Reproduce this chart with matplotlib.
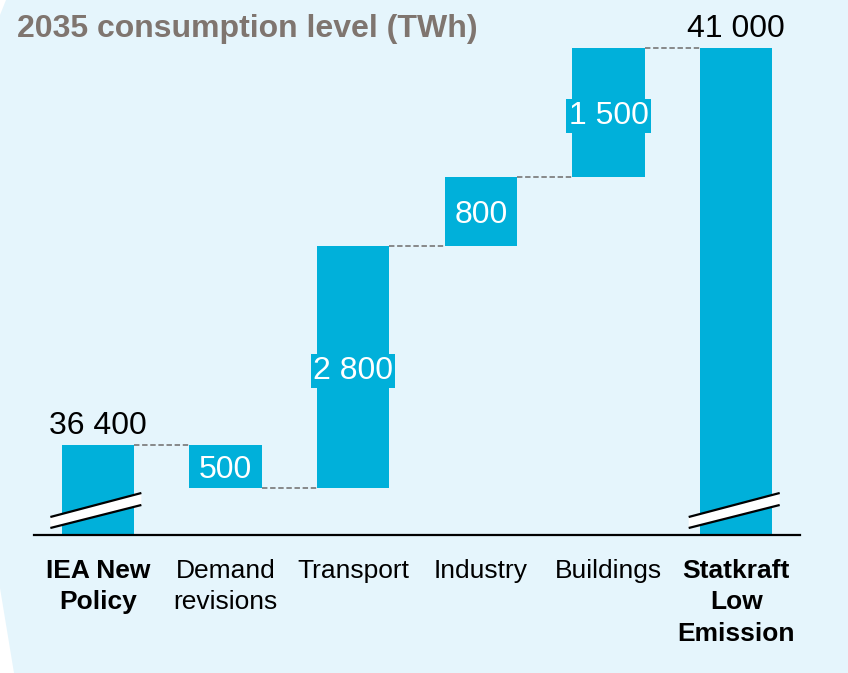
import matplotlib.pyplot as plt
from matplotlib.patches import Polygon
import numpy as np

plt.rcParams['font.family'] = ['Liberation Sans', 'DejaVu Sans']

categories = ["IEA New\nPolicy", "Demand\nrevisions", "Transport", "Industry", "Buildings", "Statkraft\nLow\nEmission"]
start_value = 36400
changes = [-500, 2800, 800, 1500]
title = "2035 consumption level (TWh)"

bar_color = "#00B0DA"
bg_color = "#E5F5FC"
title_color = "#7F756F"

def fmt(v):
    return "{:,}".format(int(abs(v))).replace(",", " ")

# waterfall geometry from data
end_value = start_value + sum(changes)
levels = [start_value]
for c in changes:
    levels.append(levels[-1] + c)
bottoms, heights = [], []
for i, c in enumerate(changes):
    lo = min(levels[i], levels[i + 1])
    bottoms.append(lo)
    heights.append(abs(c))

y_base = 35357
y_top = 41300

fig = plt.figure(figsize=(8.48, 6.73), dpi=100)
fig.patch.set_facecolor("white")

# light blue panel with slanted left edge (pixel coords)
W, H = 848, 673
panel = [(6, 0), (0, 15), (0, 588), (14, 673), (848, 673), (848, 0)]
panel = [(px / W, 1 - py / H) for px, py in panel]
fig.patches.append(Polygon(panel, closed=True, transform=fig.transFigure,
                           facecolor=bg_color, edgecolor="none", zorder=-1))

ax = fig.add_axes([34 / W, 1 - 535 / H, (800 - 34) / W, (535 - 22) / H])
ax.set_facecolor("none")
ax.set_xlim(-0.5, 5.5)
ax.set_ylim(y_base, y_top)

x = np.arange(len(categories))
bw = 0.565

# totals
ax.bar([x[0], x[-1]], [start_value - y_base, end_value - y_base], bottom=y_base,
       width=bw, color=bar_color, zorder=2)
# changes
ax.bar(x[1:-1], heights, bottom=bottoms, width=bw, color=bar_color, zorder=2)

# connectors
for i, lv in enumerate(levels):
    ax.plot([x[i] + bw / 2, x[i + 1] - bw / 2], [lv, lv], color="#808080",
            lw=1.3, ls=(0, (3, 1.5)), zorder=1)

# labels on totals
for xi, v in [(x[0], start_value), (x[-1], end_value)]:
    ax.annotate(fmt(v), (xi, v), xytext=(0, 3), textcoords="offset points",
                ha="center", va="bottom", fontsize=23, color="black")

# labels inside change bars
for xi, b, h, c in zip(x[1:-1], bottoms, heights, changes):
    ax.text(xi, b + h / 2, fmt(c), ha="center", va="center_baseline", fontsize=23,
            color="white", zorder=3,
            bbox=dict(boxstyle="square,pad=0.07", fc=bar_color, ec="none"))

# axis break marks on the total bars
ppu = 487 / (end_value - y_base)
for xi in [x[0], x[-1]]:
    xl, xr = xi - 0.372, xi + 0.341
    top = [(xl, y_base + 18 / ppu), (xr, y_base + 42 / ppu)]
    bot = [(xl, y_base + 7 / ppu), (xr, y_base + 30 / ppu)]
    ax.add_patch(Polygon(top + bot[::-1], closed=True, fc="white", ec="none", zorder=4))
    ax.plot(*zip(*top), color="black", lw=1.6, zorder=5, solid_capstyle="butt")
    ax.plot(*zip(*bot), color="black", lw=1.6, zorder=5, solid_capstyle="butt")

for s in ["top", "left", "right"]:
    ax.spines[s].set_visible(False)
ax.spines["bottom"].set_linewidth(1.6)
ax.set_yticks([])
ax.set_xticks(x)
ax.set_xticklabels(categories, fontsize=19, linespacing=1.4)
ax.tick_params(axis="x", length=0, pad=17)
for i in [0, len(categories) - 1]:
    ax.get_xticklabels()[i].set_fontweight("bold")

fig.text(17 / W, 1 - 37 / H, title, fontsize=23, fontweight="bold",
         color=title_color, ha="left", va="baseline")

plt.savefig("out.png", dpi=100, facecolor=fig.get_facecolor())
